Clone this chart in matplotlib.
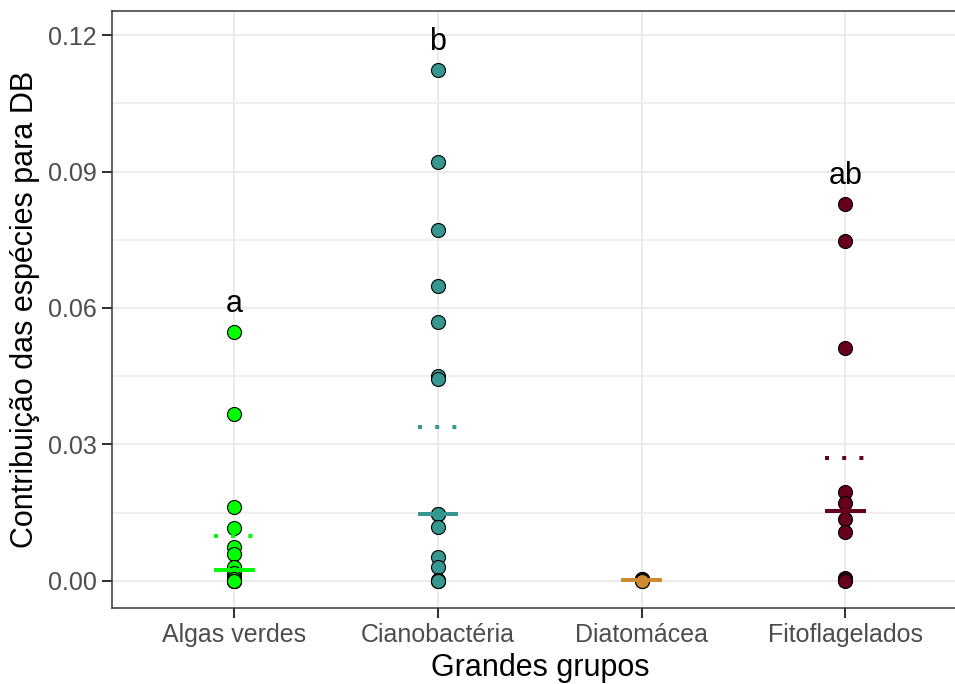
import numpy as np
import matplotlib
matplotlib.use("Agg")
import matplotlib.pyplot as plt
from matplotlib.ticker import MultipleLocator, FormatStrFormatter

plt.rcParams['font.family'] = ['Liberation Sans', 'DejaVu Sans']

# data
groups = ["Algas verdes", "Cianobactéria", "Diatomácea", "Fitoflagelados"]
algas = [0.0547, 0.0366, 0.0163, 0.0117, 0.0075, 0.0058, 0.0030, 0.0018,
         0.0008, 0.0003, 0.0, 0.0, 0.0, 0.0]
ciano = [0.1123, 0.0922, 0.0772, 0.0649, 0.0569, 0.0450, 0.0443, 0.0148,
         0.0146, 0.0119, 0.0053, 0.0031, 0.0002, 0.0, 0.0, 0.0]
diato = [0.0004, 0.0003, 0.0002, 0.0, 0.0]
fito = [0.0829, 0.0748, 0.0512, 0.0196, 0.0172, 0.0135, 0.0108, 0.0007,
        0.0002, 0.0]
letters = ["a", "b", "", "ab"]
colors = ["#00FF00", "#35978F", "#CD8A30", "#67001F"]

series = [algas, ciano, diato, fito]

fig = plt.figure(figsize=(9.55, 6.84), dpi=100)
ax = fig.add_axes([0.1174, 0.1111, 0.8958, 0.8728])

px = 72 / 100  # points per pixel
for i, (vals, col, lab) in enumerate(zip(series, colors, letters)):
    x = i + 1
    vals = np.array(vals)
    ax.scatter(np.full(len(vals), x), vals, s=(14 * px) ** 2, c=col,
               edgecolors='black', linewidths=0.8, zorder=3)
    med = np.median(vals)
    mean = vals.mean()
    ax.plot([x - 0.1, x + 0.1], [med, med], color=col, lw=4 * px,
            solid_capstyle='butt', zorder=4)
    ax.plot([x - 0.1, x + 0.1], [mean, mean], color=col, lw=4 * px,
            linestyle=(0, (1, 3.3)), dash_capstyle='butt', zorder=4)
    if lab:
        ax.text(x, vals.max() + 0.0062, lab, ha='center', va='center',
                fontsize=22, color='black', zorder=5)

ax.set_xlim(0.4, 4.6)
ax.set_ylim(-0.00597, 0.1253)
ax.set_xticks(range(1, 5))
ax.set_xticklabels(groups)
ax.yaxis.set_major_locator(MultipleLocator(0.03))
ax.yaxis.set_minor_locator(MultipleLocator(0.015))
ax.yaxis.set_major_formatter(FormatStrFormatter('%.2f'))

ax.grid(True, which='major', color='#EBEBEB', lw=2 * px, zorder=0)
ax.grid(True, which='minor', axis='y', color='#EBEBEB', lw=1.5 * px, zorder=0)
ax.set_axisbelow(True)
ax.tick_params(axis='both', which='major', length=7 * px * 1.4, width=2 * px,
               color='#333333', labelcolor='#4D4D4D', labelsize=18, pad=4)
ax.tick_params(axis='both', which='minor', length=0)
for sp in ax.spines.values():
    sp.set_color('#333333')
    sp.set_linewidth(1.5 * px)

ax.set_xlabel("Grandes grupos", fontsize=22, color='black', labelpad=4)
ax.set_ylabel("Contribuição das espécies para DB", fontsize=22, color='black',
              labelpad=6)

fig.savefig("out.png", dpi=100)
